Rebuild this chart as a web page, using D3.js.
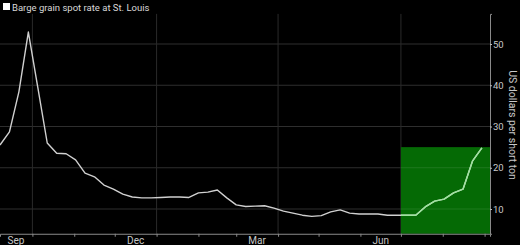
<!DOCTYPE html>
<html><head><meta charset="utf-8">
<script src="https://cdn.jsdelivr.net/npm/d3@7"></script>
<style>html,body{margin:0;padding:0;background:#000;}svg{display:block;}</style>
</head><body>
<svg id="c" width="520" height="245"></svg>
<script>
const title = "Barge grain spot rate at St. Louis";
const yTitle = "US dollars per short ton";
const startDate = "2021-09-07";
const values = [25.5, 28.7, 38.4, 52.9, 39.5, 26.0, 23.5, 23.4, 21.9, 18.7,
  17.8, 15.8, 14.8, 13.6, 12.9, 12.7, 12.7, 12.8, 12.9, 12.9,
  12.8, 13.9, 14.1, 14.6, 12.7, 11.0, 10.6, 10.7, 10.8, 10.2,
  9.5, 9.0, 8.5, 8.2, 8.4, 9.3, 9.8, 9.0, 8.8, 8.8,
  8.8, 8.5, 8.5, 8.5, 8.5, 10.5, 11.9, 12.4, 13.9, 14.8,
  21.6, 24.8];
const yTicks = [10, 20, 30, 40, 50];
const monthLabels = ["Sep", "Dec", "Mar", "Jun"];
const labelMonths = ["2021-09-01", "2021-12-01", "2022-03-01", "2022-06-01"];
const gridDates = ["2021-10-01", "2022-01-01", "2022-04-01", "2022-07-01"];
const highlightStart = "2022-07-01";
const highlightTop = 25;
const xDomain = ["2021-09-07", "2022-09-05"];
const yDomain = [4, 57.3];

const parse = d3.utcParse("%Y-%m-%d");
const svg = d3.select("#c");
const x = d3.scaleUtc().domain(xDomain.map(parse)).range([0, 490]);
const y = d3.scaleLinear().domain(yDomain).range([233.75, 13.9]);
const t0 = parse(startDate);
const data = values.map((v, i) => ({date: d3.utcDay.offset(t0, 7 * i), value: v}));
const font = "Roboto, 'Liberation Sans', sans-serif";

// gridlines
svg.append("g").selectAll("line").data(yTicks).join("line")
  .attr("x1", 0).attr("x2", x.range()[1]).attr("y1", d => y(d)).attr("y2", d => y(d))
  .attr("stroke", "#2e2e2e").attr("stroke-width", 1);
svg.append("g").selectAll("line").data(gridDates.map(parse)).join("line")
  .attr("x1", d => x(d)).attr("x2", d => x(d)).attr("y1", y.range()[1]).attr("y2", y.range()[0])
  .attr("stroke", "#2a2a2a").attr("stroke-width", 1);

// highlight box
const hx = x(parse(highlightStart));
svg.append("rect").attr("x", hx).attr("y", y(highlightTop))
  .attr("width", x.range()[1] - hx).attr("height", y.range()[0] - y(highlightTop))
  .attr("fill", "#056a05");
svg.append("g").selectAll("line").data(yTicks.filter(v => v < highlightTop)).join("line")
  .attr("x1", hx).attr("x2", x.range()[1]).attr("y1", d => y(d)).attr("y2", d => y(d))
  .attr("stroke", "#1f7a1f").attr("stroke-width", 1);

svg.append("defs").append("clipPath").attr("id", "hl").append("rect")
  .attr("x", hx).attr("y", 0).attr("width", 100).attr("height", 245);

const line = d3.line().x(d => x(d.date)).y(d => y(d.value));
svg.append("path").datum(data).attr("d", line).attr("fill", "none")
  .attr("stroke", "#d0d0d0").attr("stroke-width", 1.4).attr("stroke-linejoin", "round");
svg.append("path").datum(data).attr("d", line).attr("fill", "none")
  .attr("clip-path", "url(#hl)")
  .attr("stroke", "#9ee49e").attr("stroke-width", 1.4).attr("stroke-linejoin", "round");

// x axis
const xAxis = d3.axisBottom(x).ticks(d3.utcMonth.every(1)).tickSize(3).tickFormat("");
const gx = svg.append("g").attr("transform", `translate(0,${y.range()[0]})`).call(xAxis);
gx.select(".domain").attr("stroke", "#8a8a8a");
gx.selectAll(".tick line").attr("stroke", "#8a8a8a");
svg.append("g").selectAll("text").data(monthLabels).join("text")
  .attr("x", (d, i) => {
    const m = parse(labelMonths[i]);
    const c = (x(m) + x(d3.utcMonth.offset(m, 1))) / 2;
    return Math.max(c, 16);
  })
  .attr("y", 244).attr("text-anchor", "middle")
  .attr("font-family", font).attr("font-size", 10)
  .attr("fill", "#c8c8c8").text(d => d);

// y axis
const yAxis = d3.axisRight(y).tickValues(yTicks).tickSize(2).tickPadding(1);
const gy = svg.append("g").attr("transform", `translate(${x.range()[1]},0)`).call(yAxis);
gy.select(".domain").attr("stroke", "#8a8a8a");
gy.selectAll(".tick line").attr("stroke", "#bbb");
gy.selectAll(".tick text").attr("fill", "#c8c8c8")
  .attr("font-family", font).attr("font-size", 9.5);

svg.append("text").attr("transform", "translate(508.5,125) rotate(90)")
  .attr("text-anchor", "middle").attr("font-family", font)
  .attr("font-size", 10.5).attr("fill", "#c8c8c8").text(yTitle);

// title
svg.append("rect").attr("x", 3).attr("y", 3).attr("width", 7).attr("height", 7).attr("fill", "#fff");
svg.append("text").attr("x", 12).attr("y", 10.5)
  .attr("font-family", font).attr("font-size", 9.5)
  .attr("fill", "#d8d8d8").text(title);
</script>
</body></html>
